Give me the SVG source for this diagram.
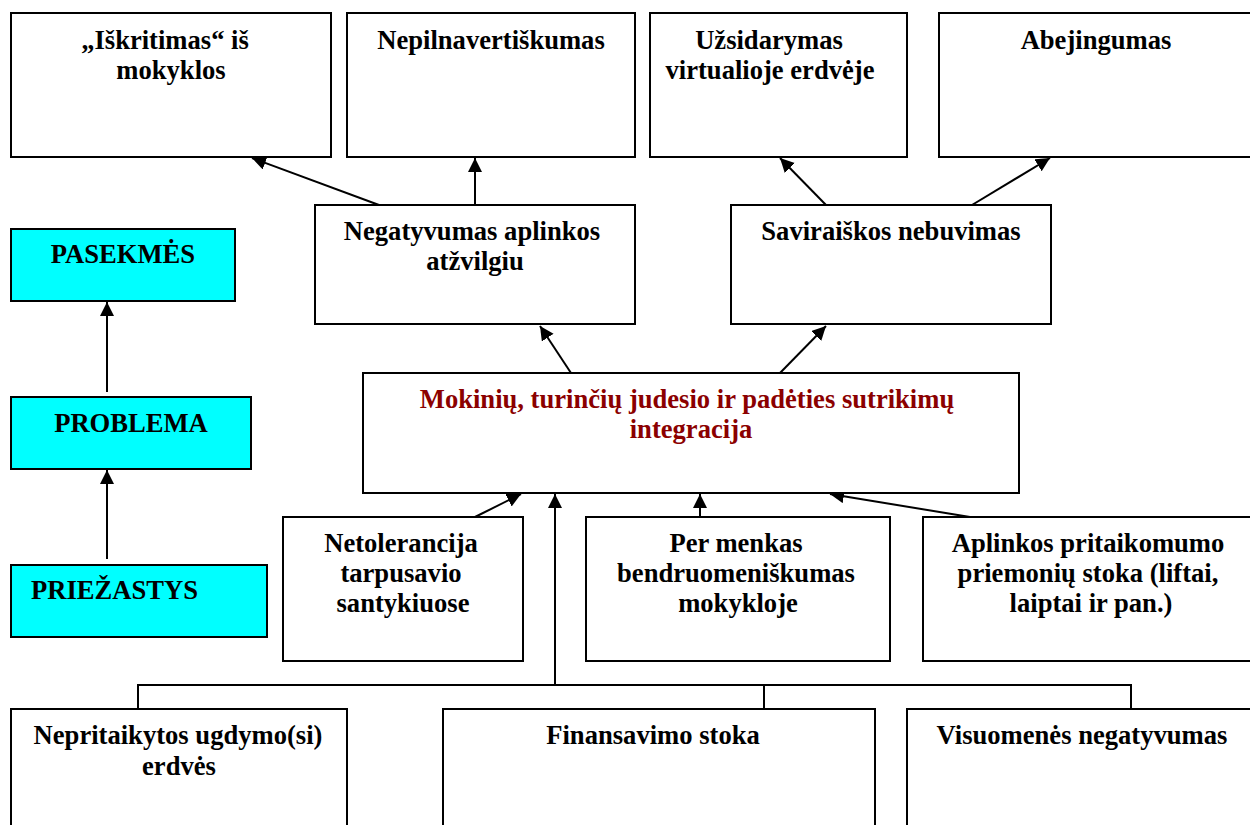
<svg xmlns="http://www.w3.org/2000/svg" width="1250" height="825" viewBox="0 0 1250 825">
<defs>
<marker id="ah" markerUnits="userSpaceOnUse" markerWidth="15" markerHeight="15" refX="14" refY="7" orient="auto" viewBox="0 0 15 15"><path d="M0,0 L14,7 L0,14 z" fill="#000"/></marker>
</defs>
<style>
.b{fill:#fff;stroke:#000;stroke-width:2}
.c{fill:#00ffff;stroke:#000;stroke-width:2}
text{font-family:"Liberation Serif","Times New Roman",serif;font-weight:bold;font-size:26.6px;fill:#000;text-anchor:middle}
text.r{fill:#8b0000}
text.s{text-anchor:start}
.l{stroke:#000;stroke-width:2;fill:none}
.a{stroke:#000;stroke-width:2;fill:none;marker-end:url(#ah)}
</style>
<rect width="1250" height="825" fill="#fff"/>

<g id="connectors">
<line class="a" x1="107" y1="392" x2="107" y2="302"/>
<line class="a" x1="107" y1="559" x2="107" y2="470"/>
<line class="a" x1="379" y1="205" x2="252" y2="158"/>
<line class="a" x1="475" y1="205" x2="475" y2="158"/>
<line class="a" x1="826" y1="205" x2="780" y2="158"/>
<line class="a" x1="972" y1="205" x2="1050" y2="158"/>
<line class="a" x1="571" y1="373" x2="540" y2="326"/>
<line class="a" x1="780" y1="373" x2="826" y2="326"/>
<line class="a" x1="475" y1="517" x2="521" y2="494"/>
<line class="a" x1="700" y1="517" x2="700" y2="494"/>
<line class="a" x1="970" y1="517" x2="830" y2="494"/>
<line class="a" x1="555" y1="685" x2="555" y2="494"/>
<polyline class="l" points="138,709 138,685 1131,685 1131,709"/>
<line class="l" x1="764" y1="685" x2="764" y2="709"/>
</g>

<g id="pasekmes"><rect class="c" x="11" y="229" width="224" height="72"/><text x="123" y="263">PASEKMĖS</text></g>
<g id="problema"><rect class="c" x="11" y="397" width="240" height="72"/><text x="131" y="432">PROBLEMA</text></g>
<g id="priezastys"><rect class="c" x="11" y="565" width="256" height="72"/><text class="s" x="31" y="599">PRIEŽASTYS</text></g>

<g id="iskritimas"><rect class="b" x="11" y="13" width="320" height="144"/><text x="165" y="49">„Iškritimas“ iš</text><text x="171" y="79">mokyklos</text></g>
<g id="nepilnavertiskumas"><rect class="b" x="347" y="13" width="288" height="144"/><text x="491" y="49">Nepilnavertiškumas</text></g>
<g id="uzsidarymas"><rect class="b" x="650" y="13" width="257" height="144"/><text x="769" y="49">Užsidarymas</text><text x="770" y="79">virtualioje erdvėje</text></g>
<g id="abejingumas"><rect class="b" x="939" y="13" width="314" height="144"/><text x="1096" y="49">Abejingumas</text></g>

<g id="negatyvumas"><rect class="b" x="315" y="205" width="320" height="119"/><text x="472" y="240">Negatyvumas aplinkos</text><text x="475" y="270">atžvilgiu</text></g>
<g id="saviraiska"><rect class="b" x="731" y="205" width="320" height="119"/><text x="891" y="240">Saviraiškos nebuvimas</text></g>

<g id="problema-main"><rect class="b" x="363" y="373" width="656" height="120"/><text class="r" x="687" y="408">Mokinių, turinčių judesio ir padėties sutrikimų</text><text class="r" x="691" y="438">integracija</text></g>

<g id="netolerancija"><rect class="b" x="283" y="517" width="240" height="144"/><text x="401" y="552">Netolerancija</text><text x="401" y="582">tarpusavio</text><text x="403" y="612">santykiuose</text></g>
<g id="bendruomeniskumas"><rect class="b" x="586" y="517" width="304" height="144"/><text x="736" y="552">Per menkas</text><text x="736" y="582">bendruomeniškumas</text><text x="738" y="612">mokykloje</text></g>
<g id="pritaikomumas"><rect class="b" x="923" y="517" width="330" height="144"/><text x="1088" y="552">Aplinkos pritaikomumo</text><text x="1088" y="582">priemonių stoka (liftai,</text><text x="1091" y="612">laiptai ir pan.)</text></g>

<g id="nepritaikytos"><rect class="b" x="11" y="709" width="336" height="130"/><text x="178" y="744">Nepritaikytos ugdymo(si)</text><text x="179" y="775">erdvės</text></g>
<g id="finansavimas"><rect class="b" x="443" y="709" width="432" height="130"/><text x="653" y="744">Finansavimo stoka</text></g>
<g id="visuomene"><rect class="b" x="907" y="709" width="350" height="130"/><text x="1082" y="744">Visuomenės negatyvumas</text></g>
</svg>
